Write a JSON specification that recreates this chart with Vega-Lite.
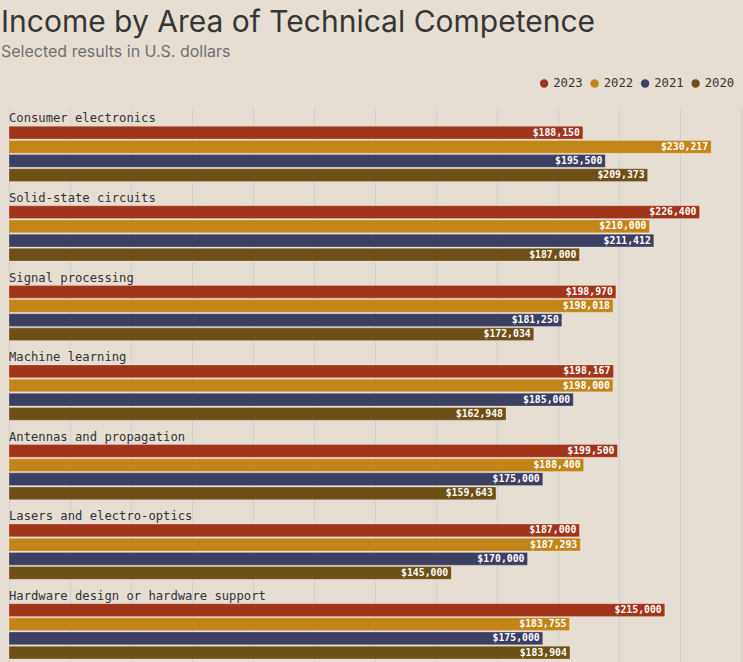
{
  "$schema": "https://vega.github.io/schema/vega-lite/v6.json",
  "background": "#e6ded3",
  "autosize": {"type": "none"},
  "padding": {"left": 9, "top": 107, "right": 2, "bottom": 0},
  "width": 732,
  "height": 557,
  "title": {
    "text": "Income by Area of Technical Competence",
    "subtitle": "Selected results in U.S. dollars",
    "anchor": "start",
    "frame": "group",
    "dx": -8,
    "offset": 17,
    "font": "Inter",
    "fontSize": 30,
    "fontWeight": "normal",
    "color": "#363636",
    "subtitleFont": "Inter",
    "subtitleFontSize": 16,
    "subtitleColor": "#707070",
    "subtitlePadding": 6
  },
  "datasets": {
    "income": [
      {"area": "Consumer electronics", "year": "2023", "income": 188150},
      {"area": "Consumer electronics", "year": "2022", "income": 230217},
      {"area": "Consumer electronics", "year": "2021", "income": 195500},
      {"area": "Consumer electronics", "year": "2020", "income": 209373},
      {"area": "Solid-state circuits", "year": "2023", "income": 226400},
      {"area": "Solid-state circuits", "year": "2022", "income": 210000},
      {"area": "Solid-state circuits", "year": "2021", "income": 211412},
      {"area": "Solid-state circuits", "year": "2020", "income": 187000},
      {"area": "Signal processing", "year": "2023", "income": 198970},
      {"area": "Signal processing", "year": "2022", "income": 198018},
      {"area": "Signal processing", "year": "2021", "income": 181250},
      {"area": "Signal processing", "year": "2020", "income": 172034},
      {"area": "Machine learning", "year": "2023", "income": 198167},
      {"area": "Machine learning", "year": "2022", "income": 198000},
      {"area": "Machine learning", "year": "2021", "income": 185000},
      {"area": "Machine learning", "year": "2020", "income": 162948},
      {"area": "Antennas and propagation", "year": "2023", "income": 199500},
      {"area": "Antennas and propagation", "year": "2022", "income": 188400},
      {"area": "Antennas and propagation", "year": "2021", "income": 175000},
      {"area": "Antennas and propagation", "year": "2020", "income": 159643},
      {"area": "Lasers and electro-optics", "year": "2023", "income": 187000},
      {"area": "Lasers and electro-optics", "year": "2022", "income": 187293},
      {"area": "Lasers and electro-optics", "year": "2021", "income": 170000},
      {"area": "Lasers and electro-optics", "year": "2020", "income": 145000},
      {"area": "Hardware design or hardware support", "year": "2023", "income": 215000},
      {"area": "Hardware design or hardware support", "year": "2022", "income": 183755},
      {"area": "Hardware design or hardware support", "year": "2021", "income": 175000},
      {"area": "Hardware design or hardware support", "year": "2020", "income": 183904}
    ],
    "areas": [
      {"area": "Consumer electronics", "slot": "label"},
      {"area": "Solid-state circuits", "slot": "label"},
      {"area": "Signal processing", "slot": "label"},
      {"area": "Machine learning", "slot": "label"},
      {"area": "Antennas and propagation", "slot": "label"},
      {"area": "Lasers and electro-optics", "slot": "label"},
      {"area": "Hardware design or hardware support", "slot": "label"}
    ]
  },
  "encoding": {
    "y": {
      "field": "area",
      "type": "nominal",
      "sort": null,
      "scale": {
        "domain": ["Consumer electronics", "Solid-state circuits", "Signal processing", "Machine learning", "Antennas and propagation", "Lasers and electro-optics", "Hardware design or hardware support"],
        "paddingInner": 0,
        "paddingOuter": 0
      },
      "axis": null
    }
  },
  "layer": [
    {
      "data": {"name": "income"},
      "mark": {"type": "bar", "stroke": "#ffffff", "strokeOpacity": 0.22, "strokeWidth": 1, "cornerRadius": 0},
      "encoding": {
        "x": {
          "field": "income",
          "type": "quantitative",
          "scale": {"domain": [0, 240000], "nice": false},
          "axis": {
            "values": [0, 20000, 40000, 60000, 80000, 100000, 120000, 140000, 160000, 180000, 200000, 220000, 240000],
            "grid": true,
            "gridColor": "#d1d0d0",
            "gridWidth": 1,
            "labels": false,
            "ticks": false,
            "domain": false,
            "title": null
          }
        },
        "yOffset": {
          "field": "year",
          "type": "nominal",
          "scale": {"domain": ["label", "2023", "2022", "2021", "2020"], "paddingInner": 0.1, "paddingOuter": 0.36}
        },
        "color": {
          "field": "year",
          "type": "nominal",
          "scale": {"domain": ["2023", "2022", "2021", "2020"], "range": ["#a2341a", "#c48518", "#3d3f62", "#6e5016"]},
          "legend": {
            "title": null,
            "orient": "none",
            "direction": "horizontal",
            "legendX": 529,
            "legendY": -30,
            "symbolType": "circle",
            "symbolSize": 70,
            "symbolStrokeWidth": 0,
            "labelFont": "DejaVu Sans Mono",
            "labelFontSize": 12.2,
            "labelColor": "#333333",
            "labelOffset": 3,
            "columnPadding": 5.5
          }
        }
      }
    },
    {
      "data": {"name": "income"},
      "mark": {"type": "text", "align": "right", "baseline": "middle", "dx": -3, "font": "DejaVu Sans Mono", "fontSize": 9.8, "fontWeight": "bold", "color": "#ffffff"},
      "encoding": {
        "x": {"field": "income", "type": "quantitative"},
        "yOffset": {"field": "year", "type": "nominal"},
        "text": {"field": "income", "type": "quantitative", "format": "$,.0f"}
      }
    },
    {
      "data": {"name": "areas"},
      "mark": {"type": "text", "align": "left", "baseline": "middle", "dy": 0, "font": "DejaVu Sans Mono", "fontSize": 12.2, "color": "#333333"},
      "encoding": {
        "x": {"datum": 0, "type": "quantitative"},
        "yOffset": {"field": "slot", "type": "nominal"},
        "text": {"field": "area"}
      }
    }
  ],
  "config": {
    "view": {"stroke": null}
  }
}
